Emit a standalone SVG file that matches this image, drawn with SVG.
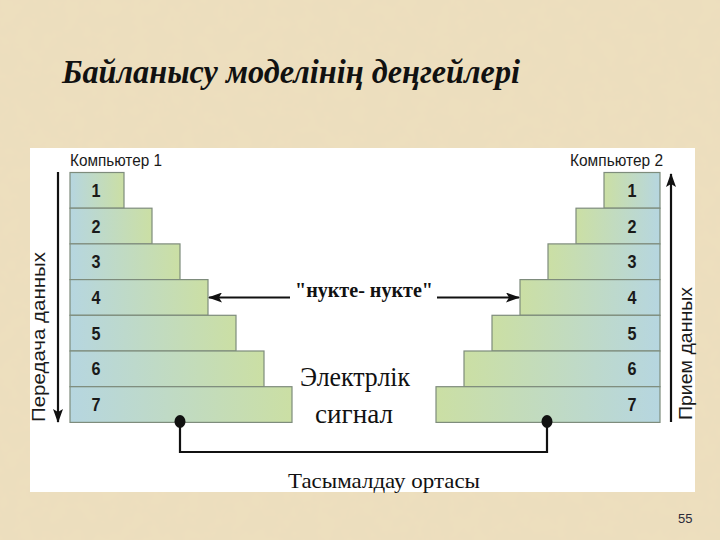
<svg xmlns="http://www.w3.org/2000/svg" width="720" height="540" viewBox="0 0 720 540">
  <defs>
    <filter id="paper" x="0" y="0" width="100%" height="100%">
      <feTurbulence type="fractalNoise" baseFrequency="0.06" numOctaves="3" seed="4" result="n"/>
      <feColorMatrix in="n" type="matrix" values="0 0 0 0 0.82  0 0 0 0 0.72  0 0 0 0 0.52  0 0 0 0.6 -0.1" result="c"/>
      <feComposite in="c" in2="SourceGraphic" operator="over"/>
    </filter>
    <linearGradient id="gl" x1="0" y1="0" x2="1" y2="0">
      <stop offset="0" stop-color="#B6D6E0"/>
      <stop offset="1" stop-color="#CBDFA4"/>
    </linearGradient>
    <linearGradient id="gr" x1="0" y1="0" x2="1" y2="0">
      <stop offset="0" stop-color="#CBDFA4"/>
      <stop offset="1" stop-color="#B6D6E0"/>
    </linearGradient>
    <marker id="ah" viewBox="0 0 14 10" refX="13" refY="5" markerWidth="14" markerHeight="10" markerUnits="userSpaceOnUse" orient="auto">
      <path d="M0,0 L14,5 L0,10 L3,5 Z" fill="#111"/>
    </marker>
    <style>
      .boxl { fill: url(#gl); stroke: #7E8C7C; stroke-width: 1.2; }
      .boxr { fill: url(#gr); stroke: #7E8C7C; stroke-width: 1.2; }
      .num { font-family: "Liberation Sans", Arial, sans-serif; font-weight: bold; font-size: 18px; fill: #1A1A1A; text-anchor: middle; }
      .comp { font-family: "Liberation Sans", Arial, sans-serif; font-size: 16px; fill: #1A1A1A; }
      .side { font-family: "Liberation Sans", Arial, sans-serif; font-size: 18px; fill: #1A1A1A; }
      .serif { font-family: "Liberation Serif", "Times New Roman", serif; fill: #111; text-anchor: middle; }
      .line { stroke: #111; stroke-width: 2.2; fill: none; }
    </style>
  </defs>

  <rect x="0" y="0" width="720" height="540" fill="#EDDFBE" filter="url(#paper)"/>
  <rect x="30" y="148" width="665" height="344" fill="#FFFFFF"/>

  <text x="62" y="83" font-family="Liberation Serif, 'Times New Roman', serif" font-size="34" font-weight="bold" font-style="italic" fill="#111" textLength="458" lengthAdjust="spacingAndGlyphs">Байланысу моделінің деңгейлері</text>

  <text class="comp" x="70" y="166" textLength="92" lengthAdjust="spacingAndGlyphs">Компьютер 1</text>
  <text class="comp" x="570" y="166" textLength="93" lengthAdjust="spacingAndGlyphs">Компьютер 2</text>

  <g id="computer1">
    <g id="l1"><rect class="boxl" x="70" y="172.5" width="54" height="35.7"/><text class="num" x="96" y="196.8" textLength="9" lengthAdjust="spacingAndGlyphs">1</text></g>
    <g id="l2"><rect class="boxl" x="70" y="208.2" width="82" height="35.7"/><text class="num" x="96" y="232.5" textLength="9" lengthAdjust="spacingAndGlyphs">2</text></g>
    <g id="l3"><rect class="boxl" x="70" y="243.9" width="110" height="35.7"/><text class="num" x="96" y="268.2" textLength="9" lengthAdjust="spacingAndGlyphs">3</text></g>
    <g id="l4"><rect class="boxl" x="70" y="279.6" width="138" height="35.7"/><text class="num" x="96" y="303.9" textLength="9" lengthAdjust="spacingAndGlyphs">4</text></g>
    <g id="l5"><rect class="boxl" x="70" y="315.3" width="166" height="35.7"/><text class="num" x="96" y="339.6" textLength="9" lengthAdjust="spacingAndGlyphs">5</text></g>
    <g id="l6"><rect class="boxl" x="70" y="351" width="194" height="35.7"/><text class="num" x="96" y="375.3" textLength="9" lengthAdjust="spacingAndGlyphs">6</text></g>
    <g id="l7"><rect class="boxl" x="70" y="386.7" width="222" height="35.7"/><text class="num" x="96" y="411" textLength="9" lengthAdjust="spacingAndGlyphs">7</text></g>
  </g>

  <g id="computer2">
    <g id="r1"><rect class="boxr" x="604" y="172.5" width="56" height="35.7"/><text class="num" x="632" y="196.8" textLength="9" lengthAdjust="spacingAndGlyphs">1</text></g>
    <g id="r2"><rect class="boxr" x="576" y="208.2" width="84" height="35.7"/><text class="num" x="632" y="232.5" textLength="9" lengthAdjust="spacingAndGlyphs">2</text></g>
    <g id="r3"><rect class="boxr" x="548" y="243.9" width="112" height="35.7"/><text class="num" x="632" y="268.2" textLength="9" lengthAdjust="spacingAndGlyphs">3</text></g>
    <g id="r4"><rect class="boxr" x="520" y="279.6" width="140" height="35.7"/><text class="num" x="632" y="303.9" textLength="9" lengthAdjust="spacingAndGlyphs">4</text></g>
    <g id="r5"><rect class="boxr" x="492" y="315.3" width="168" height="35.7"/><text class="num" x="632" y="339.6" textLength="9" lengthAdjust="spacingAndGlyphs">5</text></g>
    <g id="r6"><rect class="boxr" x="464" y="351" width="196" height="35.7"/><text class="num" x="632" y="375.3" textLength="9" lengthAdjust="spacingAndGlyphs">6</text></g>
    <g id="r7"><rect class="boxr" x="436" y="386.7" width="224" height="35.7"/><text class="num" x="632" y="411" textLength="9" lengthAdjust="spacingAndGlyphs">7</text></g>
  </g>

  <g id="connectors">
    <line class="line" x1="58" y1="172" x2="58" y2="422" marker-end="url(#ah)"/>
    <line class="line" x1="671" y1="422" x2="671" y2="174" marker-end="url(#ah)"/>
    <line class="line" x1="290" y1="297.5" x2="209" y2="297.5" marker-end="url(#ah)"/>
    <line class="line" x1="437" y1="297.5" x2="519" y2="297.5" marker-end="url(#ah)"/>
    <path class="line" d="M180,422 V452 H547 V422"/>
    <ellipse cx="180" cy="421.5" rx="5.5" ry="6.5" fill="#111"/>
    <ellipse cx="547" cy="421.5" rx="5.5" ry="6.5" fill="#111"/>
  </g>

  <text class="side" transform="translate(45,422) rotate(-90)" textLength="170" lengthAdjust="spacingAndGlyphs">Передача данных</text>
  <text class="side" transform="translate(692,420) rotate(-90)" textLength="133" lengthAdjust="spacingAndGlyphs">Прием данных</text>

  <text class="serif" x="364" y="297" font-size="20" font-weight="bold" textLength="138" lengthAdjust="spacingAndGlyphs">"нукте- нукте"</text>
  <text class="serif" x="355" y="386" font-size="27" textLength="110" lengthAdjust="spacingAndGlyphs">Электрлік</text>
  <text class="serif" x="354" y="423" font-size="27" textLength="78" lengthAdjust="spacingAndGlyphs">сигнал</text>
  <text class="serif" x="384" y="488" font-size="21" textLength="192" lengthAdjust="spacingAndGlyphs">Тасымалдау ортасы</text>

  <text x="678" y="523" font-family="'Liberation Sans', Arial, sans-serif" font-size="13" fill="#2A2A3A">55</text>
</svg>
